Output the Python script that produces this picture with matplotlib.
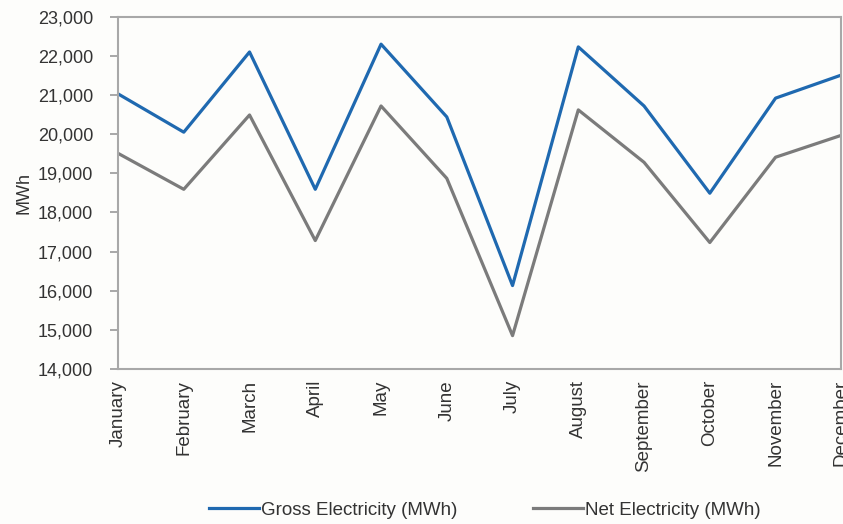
import numpy as np
import matplotlib.pyplot as plt

plt.rcParams['font.family'] = ['Liberation Sans', 'DejaVu Sans']

# monthly electricity, MWh
months = ["January", "February", "March", "April", "May", "June",
          "July", "August", "September", "October", "November", "December"]
gross = [21030, 20050, 22100, 18590, 22300, 20440,
         16130, 22230, 20720, 18490, 20920, 21510]
net = [19510, 18590, 20490, 17280, 20720, 18870,
       14850, 20620, 19280, 17230, 19410, 19970]

fig = plt.figure(figsize=(8.43, 5.24), dpi=100, facecolor='#fdfdfb')
ax = fig.add_axes([0.140, 0.296, 0.858, 0.672])
ax.set_facecolor('#fdfdfb')

x = np.arange(len(months))
ax.plot(x, gross, color='#1f69b0', lw=2.3, label='Gross Electricity (MWh)')
ax.plot(x, net, color='#7b7b7b', lw=2.3, label='Net Electricity (MWh)')

ax.set_xlim(0, len(months) - 1)
ax.set_ylim(14000, 23000)
ax.set_yticks(np.arange(14000, 23001, 1000))
ax.yaxis.set_major_formatter(plt.FuncFormatter(lambda v, p: f"{int(v):,}"))
ax.set_xticks(x)
ax.set_xticklabels(months, rotation=90, fontsize=13.5, color='#333333')

ax.tick_params(axis='y', length=6, width=1.2, color='#999999', pad=12,
               labelsize=13, labelcolor='#333333')
ax.tick_params(axis='x', length=0, pad=8)
for s in ax.spines.values():
    s.set_color('#a8a8a8')
    s.set_linewidth(1.5)

ax.set_ylabel('MWh', fontsize=13, color='#333333', labelpad=4)

fig.legend(loc='lower center', bbox_to_anchor=(0.575, -0.022), ncol=2,
           frameon=False, fontsize=13.5, handlelength=2.7, handletextpad=0.1,
           columnspacing=4.0, labelcolor='#333333')

fig.savefig('out.png', dpi=100, facecolor=fig.get_facecolor())
